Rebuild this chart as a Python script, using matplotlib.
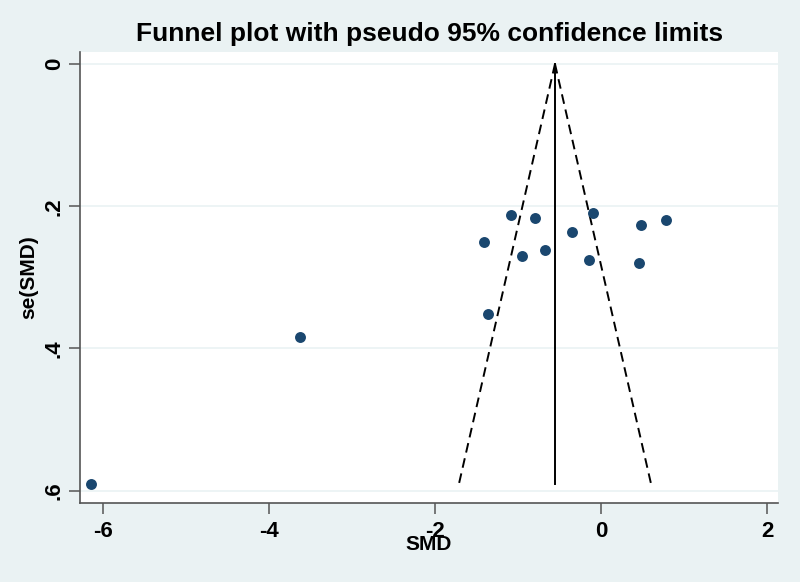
import numpy as np
import matplotlib.pyplot as plt

# study effects (SMD) and their standard errors
smd = [-6.14, -3.63, -1.36, -1.41, -1.09, -0.95, -0.79, -0.67,
       -0.35, -0.15, -0.10, 0.46, 0.48, 0.78]
se_smd = [0.591, 0.384, 0.351, 0.250, 0.213, 0.270, 0.217, 0.262,
          0.236, 0.276, 0.209, 0.280, 0.226, 0.219]
pooled = -0.554

x_ticks = [-6, -4, -2, 0, 2]
y_ticks = [0, 0.2, 0.4, 0.6]
y_labels = ["0", ".2", ".4", ".6"]

bg = "#EAF2F3"
navy = "#1A476F"

plt.rcParams["font.family"] = ["Liberation Sans", "DejaVu Sans"]
plt.rcParams["font.weight"] = "bold"

fig = plt.figure(figsize=(8, 5.82), dpi=100, facecolor=bg)
ax = fig.add_axes([0.1, 0.1357, 0.8725, 0.775])
ax.set_facecolor("white")

# funnel: pseudo 95% limits around the pooled estimate
se_max = max(se_smd)
se_line = np.array([0, se_max])
ax.plot(pooled - 1.96 * se_line, se_line, color="black", lw=1.4, ls=(0, (5, 3)))
ax.plot(pooled + 1.96 * se_line, se_line, color="black", lw=1.4, ls=(0, (5, 3)))
ax.plot([pooled, pooled], [0, se_max], color="black", lw=1.4)

ax.scatter(smd, se_smd, s=62, color=navy, zorder=3, linewidths=0)

ax.set_xlim(-6.277, 2.133)
ax.set_ylim(0.6174, -0.0169)
ax.set_xticks(x_ticks)
ax.set_xticklabels([str(t) for t in x_ticks])
ax.set_yticks(y_ticks)
ax.set_yticklabels(y_labels, rotation=90, va="center")
for t in y_ticks:
    ax.axhline(t, color=bg, lw=1.2, zorder=0)

for side in ["top", "right"]:
    ax.spines[side].set_visible(False)
for side in ["left", "bottom"]:
    ax.spines[side].set_color("#555555")
    ax.spines[side].set_linewidth(1.2)
ax.tick_params(axis="both", length=8, width=1.1, color="#555555",
               labelsize=16, pad=5)
ax.tick_params(axis="y", pad=3)

ax.set_xlabel("SMD", fontsize=15, fontweight="bold", labelpad=-5)
ax.set_ylabel("se(SMD)", fontsize=15, fontweight="bold", labelpad=4)
fig.suptitle("Funnel plot with pseudo 95% confidence limits",
             fontsize=19, fontweight="bold", x=0.537, y=0.962)

fig.savefig("out.png", dpi=100, facecolor=bg)
